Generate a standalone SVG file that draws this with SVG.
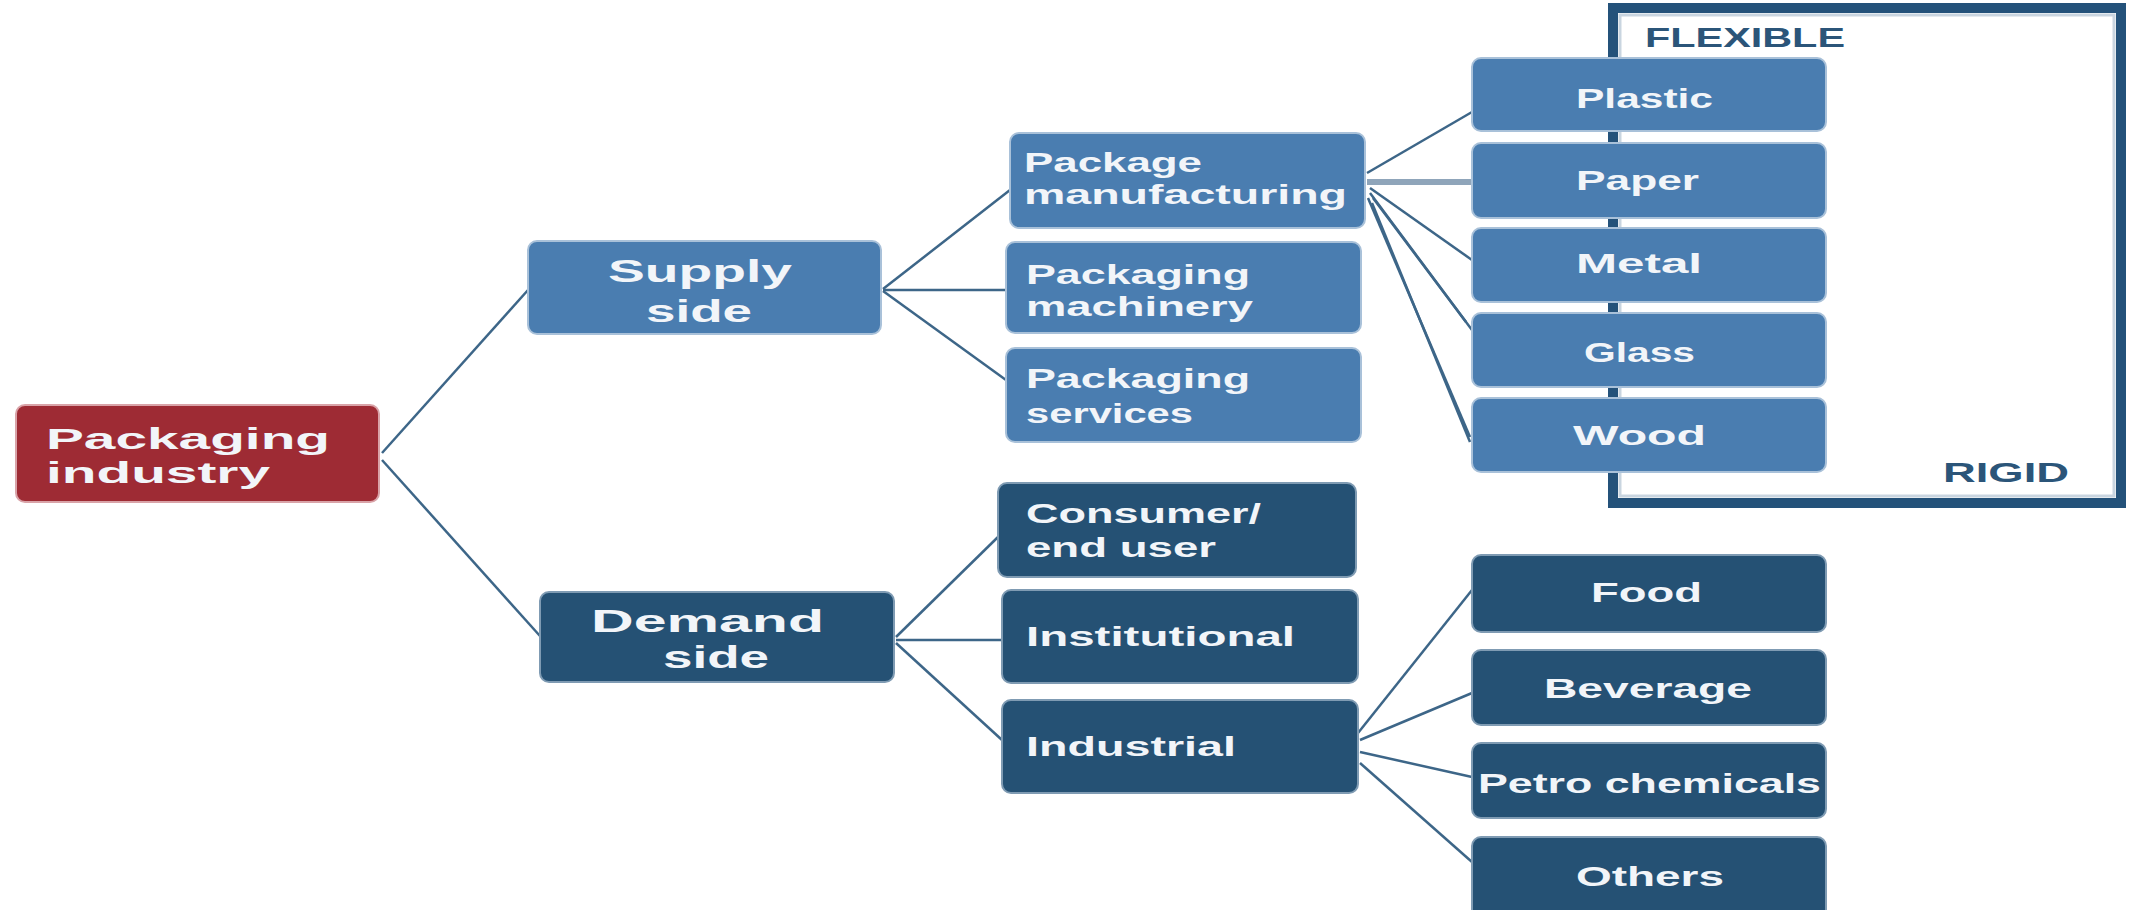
<svg xmlns="http://www.w3.org/2000/svg" width="2136" height="910" viewBox="0 0 2136 910">
<style>
.light{fill:#4a7db0;stroke:#a9c1d9;stroke-width:2}
.dark{fill:#255174;stroke:#7f9bb3;stroke-width:2}
.red{fill:#9e2b34;stroke:#d9a3a8;stroke-width:2}
.t{font-family:"Liberation Sans","Open Sans",sans-serif;font-weight:700;fill:#f2f5f9}
.mid{font-size:28px}
.lbl{font-family:"Liberation Sans Narrow","Liberation Sans",sans-serif;font-weight:700;font-size:28px;fill:#2b5579}
.c{stroke:#3d6688;stroke-width:2.5;fill:none}
</style>
<rect width="2136" height="910" fill="#ffffff"/>
<g id="frame">
<rect x="1613" y="8" width="508" height="495" fill="#ffffff" stroke="#24527a" stroke-width="10"/>
<rect x="1620" y="15" width="494" height="481" fill="none" stroke="#c9d5e0" stroke-width="3"/>
<text class="lbl" x="1645" y="47" textLength="200" lengthAdjust="spacingAndGlyphs">FLEXIBLE</text>
<text class="lbl" x="1943" y="482" textLength="126" lengthAdjust="spacingAndGlyphs">RIGID</text>
</g>
<g id="connectors">
<line class="c" x1="382" y1="453" x2="528" y2="290"/>
<line class="c" x1="382" y1="460" x2="540" y2="636"/>
<line class="c" x1="883" y1="289" x2="1010" y2="190"/>
<line class="c" x1="883" y1="290" x2="1006" y2="290"/>
<line class="c" x1="883" y1="291" x2="1006" y2="380"/>
<line class="c" x1="1367" y1="173" x2="1472" y2="112"/>
<line x1="1367" y1="182" x2="1472" y2="182" stroke="#8fa5ba" stroke-width="6"/>
<line class="c" x1="1370" y1="188" x2="1472" y2="260"/>
<line class="c" x1="1370" y1="193" x2="1472" y2="330"/>
<line class="c" x1="1373" y1="198" x2="1466" y2="322"/>
<line class="c" x1="1368" y1="198" x2="1470" y2="437"/>
<line class="c" x1="1372" y1="203" x2="1470" y2="442"/>
<line class="c" x1="896" y1="637" x2="998" y2="537"/>
<line class="c" x1="896" y1="640" x2="1002" y2="640"/>
<line class="c" x1="896" y1="643" x2="1002" y2="740"/>
<line class="c" x1="1358" y1="733" x2="1472" y2="590"/>
<line class="c" x1="1360" y1="740" x2="1472" y2="693"/>
<line class="c" x1="1360" y1="752" x2="1472" y2="777"/>
<line class="c" x1="1360" y1="763" x2="1472" y2="862"/>
</g>
<g id="n-industry">
<rect class="red" x="16" y="405" width="363" height="97" rx="9"/>
<text class="t" font-size="30" x="46" y="449" textLength="284" lengthAdjust="spacingAndGlyphs">Packaging</text>
<text class="t" font-size="30" x="46" y="483" textLength="224" lengthAdjust="spacingAndGlyphs">industry</text>
</g>
<g id="n-supply">
<rect class="light" x="528" y="241" width="353" height="93" rx="9"/>
<text class="t" font-size="32" x="608" y="282" textLength="184" lengthAdjust="spacingAndGlyphs">Supply</text>
<text class="t" font-size="32" x="646" y="322" textLength="106" lengthAdjust="spacingAndGlyphs">side</text>
</g>
<g id="n-demand">
<rect class="dark" x="540" y="592" width="354" height="90" rx="9"/>
<text class="t" font-size="31" x="591" y="632" textLength="233" lengthAdjust="spacingAndGlyphs">Demand</text>
<text class="t" font-size="31" x="663" y="668" textLength="106" lengthAdjust="spacingAndGlyphs">side</text>
</g>
<g id="n-pkgmfg">
<rect class="light" x="1010" y="133" width="355" height="95" rx="9"/>
<text class="t mid" x="1024" y="172" textLength="178" lengthAdjust="spacingAndGlyphs">Package</text>
<text class="t mid" x="1024" y="204" textLength="323" lengthAdjust="spacingAndGlyphs">manufacturing</text>
</g>
<g id="n-machinery">
<rect class="light" x="1006" y="242" width="355" height="91" rx="9"/>
<text class="t mid" x="1026" y="284" textLength="224" lengthAdjust="spacingAndGlyphs">Packaging</text>
<text class="t mid" x="1026" y="316" textLength="227" lengthAdjust="spacingAndGlyphs">machinery</text>
</g>
<g id="n-services">
<rect class="light" x="1006" y="348" width="355" height="94" rx="9"/>
<text class="t mid" x="1026" y="388" textLength="224" lengthAdjust="spacingAndGlyphs">Packaging</text>
<text class="t mid" x="1026" y="423" textLength="167" lengthAdjust="spacingAndGlyphs">services</text>
</g>
<g id="n-plastic">
<rect class="light" x="1472" y="58" width="354" height="73" rx="9"/>
<text class="t mid" x="1576" y="108" textLength="137" lengthAdjust="spacingAndGlyphs">Plastic</text>
</g>
<g id="n-paper">
<rect class="light" x="1472" y="143" width="354" height="75" rx="9"/>
<text class="t mid" x="1576" y="190" textLength="123" lengthAdjust="spacingAndGlyphs">Paper</text>
</g>
<g id="n-metal">
<rect class="light" x="1472" y="228" width="354" height="74" rx="9"/>
<text class="t mid" x="1576" y="273" textLength="126" lengthAdjust="spacingAndGlyphs">Metal</text>
</g>
<g id="n-glass">
<rect class="light" x="1472" y="313" width="354" height="74" rx="9"/>
<text class="t mid" x="1584" y="362" textLength="111" lengthAdjust="spacingAndGlyphs">Glass</text>
</g>
<g id="n-wood">
<rect class="light" x="1472" y="398" width="354" height="74" rx="9"/>
<text class="t mid" x="1573" y="445" textLength="133" lengthAdjust="spacingAndGlyphs">Wood</text>
</g>
<g id="n-consumer">
<rect class="dark" x="998" y="483" width="358" height="94" rx="9"/>
<text class="t mid" x="1026" y="523" textLength="235" lengthAdjust="spacingAndGlyphs">Consumer/</text>
<text class="t mid" x="1026" y="557" textLength="190" lengthAdjust="spacingAndGlyphs">end user</text>
</g>
<g id="n-institutional">
<rect class="dark" x="1002" y="590" width="356" height="93" rx="9"/>
<text class="t mid" x="1026" y="646" textLength="269" lengthAdjust="spacingAndGlyphs">Institutional</text>
</g>
<g id="n-industrial">
<rect class="dark" x="1002" y="700" width="356" height="93" rx="9"/>
<text class="t mid" x="1026" y="756" textLength="210" lengthAdjust="spacingAndGlyphs">Industrial</text>
</g>
<g id="n-food">
<rect class="dark" x="1472" y="555" width="354" height="77" rx="9"/>
<text class="t mid" x="1591" y="602" textLength="111" lengthAdjust="spacingAndGlyphs">Food</text>
</g>
<g id="n-beverage">
<rect class="dark" x="1472" y="650" width="354" height="75" rx="9"/>
<text class="t mid" x="1544" y="698" textLength="208" lengthAdjust="spacingAndGlyphs">Beverage</text>
</g>
<g id="n-petro">
<rect class="dark" x="1472" y="743" width="354" height="75" rx="9"/>
<text class="t mid" x="1478" y="793" textLength="343" lengthAdjust="spacingAndGlyphs">Petro chemicals</text>
</g>
<g id="n-others">
<rect class="dark" x="1472" y="837" width="354" height="85" rx="9"/>
<text class="t mid" x="1576" y="886" textLength="148" lengthAdjust="spacingAndGlyphs">Others</text>
</g>
</svg>
